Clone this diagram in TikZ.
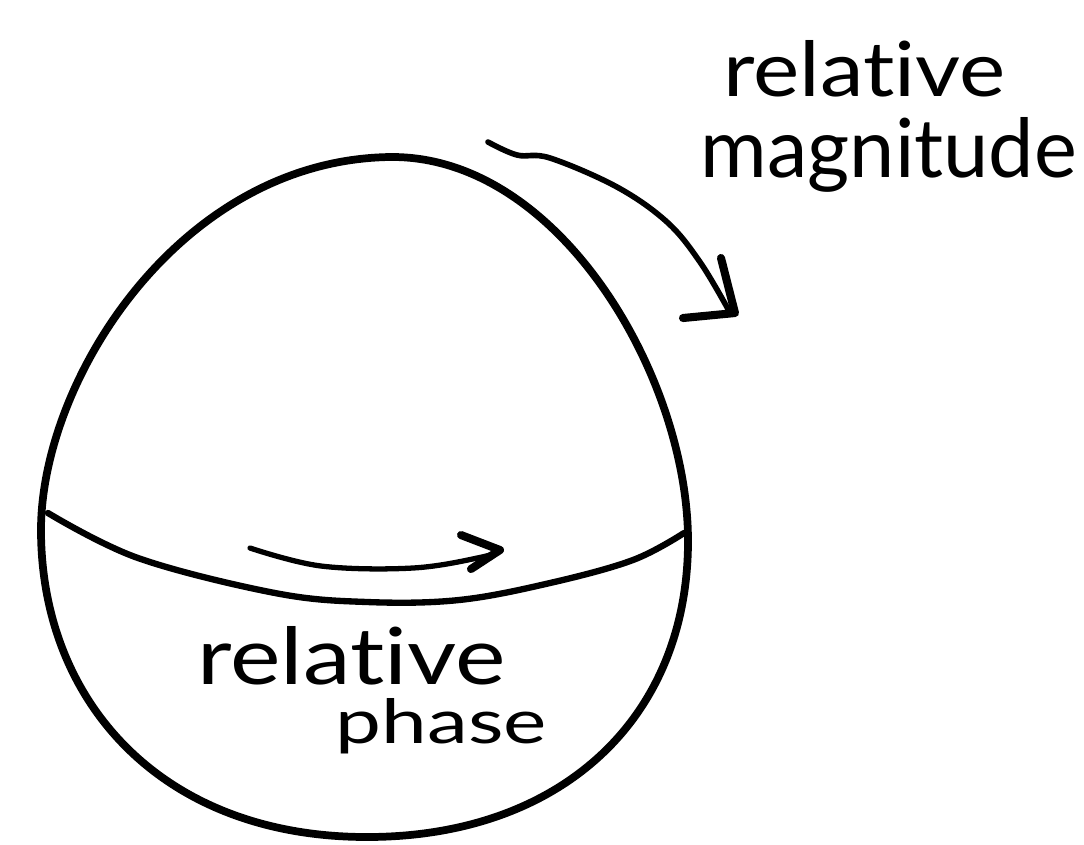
\documentclass[tikz,border=0pt]{standalone}
\usepackage{graphicx}
\usepackage{fontspec}
\setmainfont{Lato}[Ligatures=NoCommon]
\begin{document}
\begin{tikzpicture}[x=0.01cm,y=-0.01cm,
  outline/.style={line width=2.2pt,line cap=round,line join=round},
  pen/.style={line width=1.5pt,line cap=round,line join=round},
  hand/.style={inner sep=0pt,anchor=base west,font=\fontsize{24}{28}\selectfont}]
\useasboundingbox (0,0) rectangle (1084,844);
% sphere outline
\draw[outline] (41,530) .. controls (41,380) and (180,160) .. (390,157)
  .. controls (560,155) and (690,380) .. (688,545)
  .. controls (686,720) and (560,837) .. (367,837)
  .. controls (160,837) and (41,700) .. cycle;
% equator
\draw[pen,line width=1.8pt] plot[smooth,tension=0.6] coordinates {
 (48,513) (138,558) (275,593) (367,602) (459,600) (550,583) (633,560) (684,533)};
% phase arrow
\draw[pen] plot[smooth,tension=0.6] coordinates {
 (250,548) (321,566) (413,568) (482,557) (500,550)};
\draw[pen,line width=2.3pt] (461,535) -- (500,550) -- (471,569);
% magnitude arrow
\draw[pen,line width=1.6pt] plot[smooth,tension=0.6] coordinates {
 (488,142) (517,155) (550,158) (617,187) (667,222) (700,262) (728,309)};
\draw[pen,line width=2.3pt] (683,318) -- (735,313) -- (721,258);
% labels
\node[hand] (rm1) at (723,96) {\resizebox{2.82cm}{0.56cm}{relative}};
\node[hand] (rm2) at (700,177) {\resizebox{3.76cm}{0.6cm}{magnitude}};
\node[hand] (rp1) at (197,684) {\resizebox{3.08cm}{0.58cm}{relative}};
\node[hand] (rp2) at (335,743) {\resizebox{2.11cm}{0.45cm}{phase}};
\end{tikzpicture}
\end{document}
